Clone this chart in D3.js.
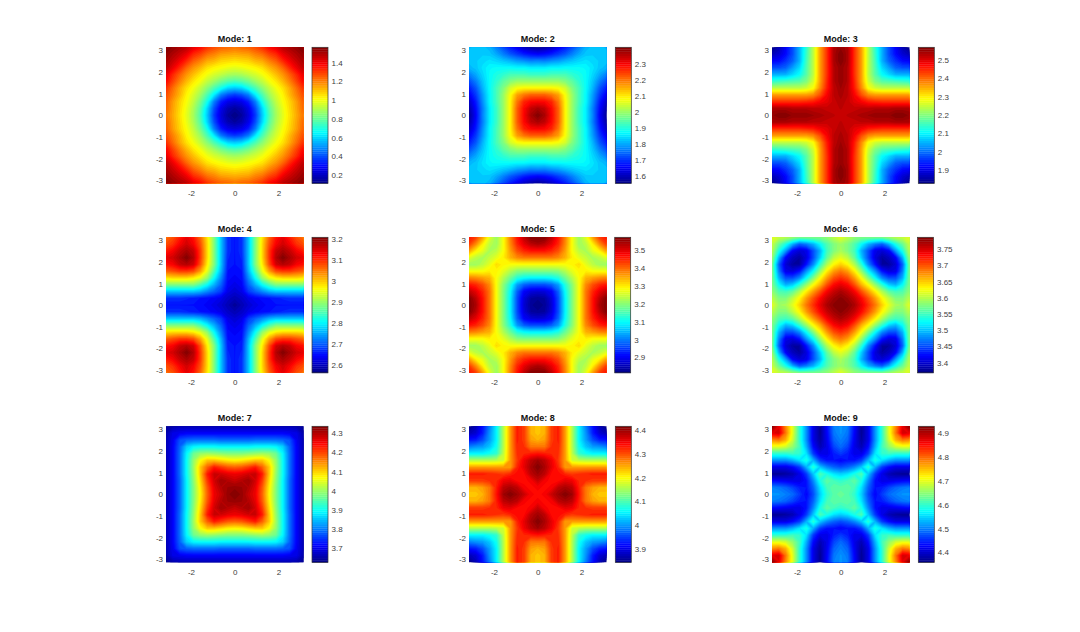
<!DOCTYPE html>
<html><head><meta charset="utf-8">
<script src="https://cdn.jsdelivr.net/npm/d3@7"></script>
<style>
html,body{margin:0;padding:0;background:#fff}
svg{display:block}
text{font-family:"Liberation Sans",Arial,sans-serif}
</style></head><body>
<svg id="chart" width="1080" height="632"></svg>
<script>
// Sampled field values: one triangle of each mode's symmetric quarter (row j holds columns i = j..10).
const mode1 = [
[.11,.15,.24,.37,.58,.76,.89,.98,1.06,1.14,1.22],
[.18,.26,.40,.60,.78,.90,.99,1.07,1.15,1.24],
[.33,.47,.68,.82,.93,1.01,1.08,1.16,1.25],
[.63,.76,.88,.96,1.03,1.12,1.2,1.28],
[.85,.93,1.0,1.06,1.14,1.23,1.32],
[1.0,1.05,1.12,1.2,1.29,1.38],
[1.11,1.17,1.25,1.33,1.42],
[1.24,1.33,1.41,1.48],
[1.4,1.46,1.51],
[1.5,1.54],
[1.56]];
const mode2 = [
[2.405,2.37,2.30,2.22,2.09,2.0,1.92,1.86,1.77,1.655,1.57],
[2.35,2.295,2.22,2.09,2.0,1.92,1.86,1.765,1.665,1.585],
[2.27,2.2,2.09,2.0,1.93,1.87,1.78,1.68,1.61],
[2.165,2.08,2.0,1.93,1.87,1.79,1.705,1.645],
[2.05,1.98,1.93,1.875,1.81,1.73,1.68],
[1.95,1.91,1.875,1.825,1.765,1.72],
[1.895,1.875,1.84,1.80,1.765],
[1.87,1.85,1.825,1.81],
[1.84,1.83,1.825],
[1.83,1.825],
[1.815]];
const mode3 = [
[2.517,2.524,2.532,2.539,2.547,2.554,2.554,2.554,2.569,2.569,2.554],
[2.517,2.517,2.524,2.524,2.532,2.532,2.532,2.539,2.539,2.539],
[2.495,2.48,2.458,2.45,2.443,2.443,2.443,2.443,2.443],
[2.421,2.376,2.361,2.361,2.361,2.361,2.361,2.361],
[2.287,2.257,2.243,2.243,2.243,2.243,2.243],
[2.198,2.168,2.161,2.153,2.146,2.139],
[2.109,2.079,2.05,2.05,2.05],
[2.035,1.99,1.975,1.975],
[1.953,1.923,1.916],
[1.886,1.864],
[1.827]];
const mode4 = [
[2.576,2.595,2.615,2.628,2.640,2.647,2.653,2.653,2.653,2.653,2.653],
[2.608,2.628,2.640,2.647,2.653,2.66,2.666,2.673,2.673,2.673],
[2.679,2.705,2.731,2.757,2.769,2.769,2.769,2.769,2.769],
[2.757,2.808,2.853,2.886,2.886,2.886,2.886,2.886],
[2.898,2.95,2.976,2.989,2.989,2.989,2.982],
[3.027,3.079,3.092,3.092,3.079,3.066],
[3.156,3.176,3.163,3.131,3.118],
[3.208,3.182,3.156,3.144],
[3.163,3.131,3.111],
[3.098,3.079],
[3.06]];
const mode5 = [
[2.814,2.829,2.875,2.965,3.094,3.193,3.283,3.389,3.465,3.541,3.571],
[2.837,2.882,2.965,3.094,3.193,3.283,3.389,3.465,3.526,3.571],
[2.905,2.981,3.102,3.193,3.283,3.389,3.45,3.495,3.526],
[3.026,3.124,3.2,3.283,3.374,3.42,3.45,3.465],
[3.177,3.23,3.283,3.344,3.359,3.374,3.382],
[3.268,3.291,3.298,3.283,3.283,3.283],
[3.314,3.268,3.238,3.215,3.215],
[3.245,3.223,3.238,3.268],
[3.268,3.298,3.359],
[3.374,3.435],
[3.465]];
const mode6 = [
[3.787,3.783,3.770,3.745,3.716,3.686,3.649,3.619,3.594,3.590,3.619],
[3.774,3.758,3.733,3.703,3.670,3.632,3.603,3.578,3.578,3.603],
[3.737,3.703,3.670,3.636,3.598,3.565,3.552,3.557,3.586],
[3.661,3.628,3.586,3.544,3.506,3.494,3.527,3.578],
[3.578,3.527,3.477,3.452,3.452,3.494,3.578],
[3.481,3.427,3.406,3.410,3.473,3.578],
[3.381,3.381,3.402,3.460,3.578],
[3.393,3.418,3.494,3.590],
[3.485,3.536,3.603],
[3.569,3.607],
[3.619]];
const mode7 = [
[4.336,4.322,4.286,4.258,4.180,4.074,3.982,3.889,3.783,3.712,3.662],
[4.315,4.301,4.265,4.187,4.081,3.982,3.889,3.783,3.712,3.662],
[4.315,4.279,4.208,4.095,3.989,3.889,3.783,3.712,3.662],
[4.286,4.230,4.109,3.996,3.896,3.790,3.712,3.662],
[4.180,4.109,4.003,3.896,3.790,3.712,3.662],
[4.067,3.996,3.896,3.790,3.712,3.662],
[3.967,3.889,3.790,3.712,3.662],
[3.861,3.783,3.712,3.662],
[3.769,3.705,3.662],
[3.698,3.655],
[3.641]];
const mode8 = [
[4.341,4.346,4.375,4.398,4.415,4.398,4.335,4.278,4.244,4.232,4.232],
[4.341,4.346,4.381,4.392,4.381,4.329,4.278,4.255,4.244,4.244],
[4.341,4.341,4.358,4.352,4.324,4.318,4.312,4.312,4.312],
[4.341,4.324,4.312,4.318,4.324,4.329,4.329,4.329],
[4.255,4.255,4.255,4.255,4.255,4.255,4.255],
[4.175,4.164,4.158,4.158,4.158,4.158],
[4.084,4.067,4.055,4.055,4.055],
[4.027,4.004,3.998,3.987],
[3.958,3.930,3.924],
[3.890,3.873],
[3.844]];
const mode9 = [
[4.632,4.621,4.598,4.546,4.472,4.427,4.461,4.489,4.501,4.512,4.512],
[4.626,4.609,4.558,4.484,4.438,4.444,4.466,4.484,4.495,4.501],
[4.626,4.586,4.506,4.438,4.415,4.415,4.421,4.427,4.432],
[4.615,4.541,4.461,4.415,4.387,4.375,4.369,4.369],
[4.598,4.529,4.461,4.432,4.415,4.415,4.415],
[4.586,4.558,4.529,4.512,4.512,4.512],
[4.598,4.609,4.598,4.598,4.598],
[4.655,4.689,4.701,4.701],
[4.758,4.792,4.781],
[4.883,4.872],
[4.929]];

const modes = [mode1,mode2,mode3,mode4,mode5,mode6,mode7,mode8,mode9];
const titles = ["Mode: 1","Mode: 2","Mode: 3","Mode: 4","Mode: 5","Mode: 6","Mode: 7","Mode: 8","Mode: 9"];
const climLow  = [0.11,1.552,1.827,2.563,2.814,3.368,3.627,3.844,4.358];
const climHigh = [1.564,2.405,2.569,3.208,3.571,3.787,4.336,4.415,4.929];
const barTicks = [
[0.2,0.4,0.6,0.8,1,1.2,1.4],
[1.6,1.7,1.8,1.9,2,2.1,2.2,2.3],
[1.9,2,2.1,2.2,2.3,2.4,2.5],
[2.6,2.7,2.8,2.9,3,3.1,3.2],
[2.9,3,3.1,3.2,3.3,3.4,3.5],
[3.4,3.45,3.5,3.55,3.6,3.65,3.7,3.75],
[3.7,3.8,3.9,4,4.1,4.2,4.3],
[3.9,4,4.1,4.2,4.3,4.4],
[4.4,4.5,4.6,4.7,4.8,4.9]];
const xTickValues = [-2,0,2];
const yTickValues = [-3,-2,-1,0,1,2,3];
const axisRange = [-Math.PI,Math.PI];
const gridStep = Math.PI/10;

// Layout (pixels)
const plotLeft = [166,469,772], plotW = 137.5;
const plotTop = [47.3,237.3,426.3], plotH = [136,135.5,136];
const barLeft = [312,615.3,918.3, 312,614.7,917.5, 312,615.3,918.3], barW = 16;
const textGrey = "#404040";

const jet = d3.scaleLinear()
  .domain([0,.125,.375,.625,.875,1])
  .range(["#000083","#0000ff","#00ffff","#ffff00","#ff0000","#800000"])
  .interpolate(d3.interpolateRgb).clamp(true);
const LEVELS = 64;
const levelColor = k => jet((k+.5)/LEVELS);

function expand(tri){
  const half = tri[0].length, n = half*2-1, out = new Array(n*n);
  const at = (i,j)=>{const a=Math.min(i,j),b=Math.max(i,j);return tri[a][b-a];};
  for(let r=0;r<n;r++)for(let c=0;c<n;c++){
    out[r*n+c]=at(Math.abs(c-half+1),Math.abs(r-half+1));
  }
  return {values:out,n};
}

const svg = d3.select("#chart");
const defs = svg.append("defs");

modes.forEach((tri,idx)=>{
  const col = idx%3, row = Math.floor(idx/3);
  const left = plotLeft[col], top = plotTop[row], h = plotH[row];
  const lo = climLow[idx], hi = climHigh[idx];
  const x = d3.scaleLinear().domain(axisRange).range([left,left+plotW]);
  const y = d3.scaleLinear().domain(axisRange).range([top+h,top]);
  const {values,n} = expand(tri);
  const half = (n-1)/2;
  const gridX = g => x((g-.5-half)*gridStep);
  const gridY = g => y((g-.5-half)*gridStep);
  const path = d3.geoPath(d3.geoTransform({point(a,b){this.stream.point(gridX(a),gridY(b));}}));
  const thresholds = d3.range(LEVELS).map(k=>lo+k*(hi-lo)/LEVELS);
  thresholds[0] = Math.min(lo,d3.min(values))-1e-6;
  const contours = d3.contours().size([n,n]).smooth(true).thresholds(thresholds)(values);

  const clipId = "clip"+idx;
  defs.append("clipPath").attr("id",clipId).append("rect")
    .attr("x",left).attr("y",top).attr("width",plotW).attr("height",h);
  const g = svg.append("g").attr("class","panel");
  g.append("g").attr("clip-path",`url(#${clipId})`)
    .selectAll("path").data(contours).join("path")
    .attr("d",path)
    .attr("fill",(d,k)=>levelColor(k))
    .attr("stroke","none");

  // Axes
  const ax = g.append("g").attr("transform",`translate(0,${top+h})`)
    .call(d3.axisBottom(x).tickValues(xTickValues).tickSize(0).tickPadding(7).tickFormat(d=>d<0?"-"+Math.abs(d):d));
  const ay = g.append("g").attr("transform",`translate(${left},0)`)
    .call(d3.axisLeft(y).tickValues(yTickValues).tickSize(0).tickPadding(3).tickFormat(d=>d<0?"-"+Math.abs(d):d));
  [ax,ay].forEach(a=>{
    a.select(".domain").remove();
    a.selectAll("text").attr("fill",textGrey).attr("font-size",8).attr("font-family",'"Liberation Sans",Arial,sans-serif');
  });

  // Title
  g.append("text").attr("x",left+plotW/2).attr("y",top-5.3)
    .attr("text-anchor","middle").attr("font-size",9).attr("font-weight","bold")
    .attr("fill","#111").text(titles[idx]);

  // Colour bar
  const bl = barLeft[idx];
  const by = d3.scaleLinear().domain([lo,hi]).range([top+h,top]);
  const cb = g.append("g").attr("class","colorbar");
  cb.selectAll("rect").data(d3.range(LEVELS)).join("rect")
    .attr("x",bl).attr("width",barW)
    .attr("y",k=>by(lo+(k+1)*(hi-lo)/LEVELS))
    .attr("height",k=>by(lo+k*(hi-lo)/LEVELS)-by(lo+(k+1)*(hi-lo)/LEVELS)+.3)
    .attr("fill",k=>levelColor(k));
  cb.append("rect").attr("x",bl).attr("y",top).attr("width",barW).attr("height",h)
    .attr("fill","none").attr("stroke","#333").attr("stroke-width",.7);
  const ab = cb.append("g").attr("transform",`translate(${bl+barW},0)`)
    .call(d3.axisRight(by).tickValues(barTicks[idx]).tickSize(0).tickPadding(3.5).tickFormat(d=>+d.toFixed(2)));
  ab.select(".domain").remove();
  ab.selectAll("text").attr("fill",textGrey).attr("font-size",8).attr("font-family",'"Liberation Sans",Arial,sans-serif');
});
</script>
</body></html>
